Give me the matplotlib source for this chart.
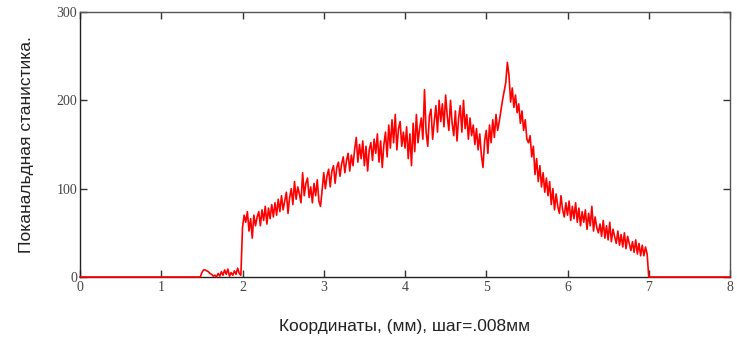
import numpy as np
import matplotlib
matplotlib.use("Agg")
import matplotlib.pyplot as plt

# --- data ---
step = 0.02                      # resampled step of the read values (mm)
lead_x = [0.0, 1.46]             # empty channels before the signal
lead_y = [0, 0]
low_start = 1.48
low_vals = [0, 5, 8, 8, 7, 6, 4, 3, 1, 2, 0, 4, 1, 6, 2, 8, 3, 9, 1, 5, 2, 7, 3, 10, 4, 2]
main_start = 2.00
main_vals = [
    56, 70, 62, 74, 52, 66, 44, 70, 58, 68,
    74, 58, 76, 64, 80, 60, 78, 66, 82, 68,
    84, 70, 88, 74, 92, 76, 86, 96, 72, 90,
    100, 82, 108, 88, 102, 94, 84, 118, 92, 106,
    112, 90, 102, 84, 106, 92, 110, 86, 80, 98,
    118, 100, 114, 122, 102, 120, 126, 106, 124, 130,
    114, 128, 136, 118, 132, 140, 120, 138, 126, 144,
    158, 130, 150, 134, 154, 126, 148, 120, 144, 152,
    132, 156, 140, 162, 130, 154, 124, 150, 164, 136,
    172, 146, 178, 152, 184, 144, 168, 176, 148, 164,
    146, 170, 134, 162, 126, 174, 142, 184, 152, 168,
    180, 156, 212, 164, 148, 182, 190, 156, 176, 194,
    164, 200, 176, 196, 170, 206, 182, 166, 200, 174,
    160, 188, 154, 180, 194, 164, 200, 168, 184, 156,
    180, 160, 172, 150, 168, 144, 162, 138, 124, 154,
    166, 140, 172, 152, 178, 158, 184, 166, 176, 188,
    200, 210, 220, 243, 228, 198, 214, 192, 206, 186,
    196, 174, 188, 166, 178, 156, 152, 160, 136, 148,
    116, 134, 108, 126, 102, 118, 96, 112, 92, 108,
    82, 100, 76, 94, 80, 72, 92, 76, 68, 84,
    70, 86, 64, 80, 66, 84, 62, 78, 58, 74,
    62, 76, 54, 72, 58, 80, 52, 68, 56, 50,
    60, 46, 64, 44, 58, 42, 62, 40, 54, 46,
    38, 52, 36, 48, 34, 50, 32, 46, 38, 30,
    40, 28, 42, 26, 38, 24, 36, 24, 34, 26,
]
tail_x = [7.00, 8.00]
tail_y = [0, 0]

x_ticks = [0, 1, 2, 3, 4, 5, 6, 7, 8]
y_ticks = [0, 100, 200, 300]
x_label = "Координаты, (мм), шаг=.008мм"
y_label = "Поканальдная станистика."

low_x = low_start + step * np.arange(len(low_vals))
main_x = main_start + step * np.arange(len(main_vals))
xs = np.concatenate([lead_x, low_x, main_x, tail_x])
ys = np.concatenate([lead_y, low_vals, main_vals, tail_y])

fig = plt.figure(figsize=(7.37, 3.40), dpi=100)
ax = fig.add_axes([80 / 737, 63 / 340, 650 / 737, 265 / 340])
ax.plot(xs, ys, color="#ff0000", lw=1.2, clip_on=False, zorder=3)
ax.set_xlim(0, 8)
ax.set_ylim(0, 300)
ax.set_xticks(x_ticks)
ax.set_yticks(y_ticks)
ax.tick_params(direction="in", top=True, right=True, length=5, width=1,
               colors="#333333", labelcolor="#444444", pad=2,
               labelsize=10)
for lab in ax.get_xticklabels() + ax.get_yticklabels():
    lab.set_family("Liberation Serif")
ax.tick_params(axis="x", pad=3)
for s in ax.spines.values():
    s.set_color("#222222")
    s.set_linewidth(1.0)
ax.spines["top"].set_color("#555555")
ax.spines["right"].set_color("#555555")
ax.set_xlabel(x_label, family="Liberation Sans", fontsize=12.5, color="#222222", labelpad=18)
ax.set_ylabel(y_label, family="Liberation Sans", fontsize=12.5, color="#222222", labelpad=16)
fig.savefig("out.png", dpi=100)
